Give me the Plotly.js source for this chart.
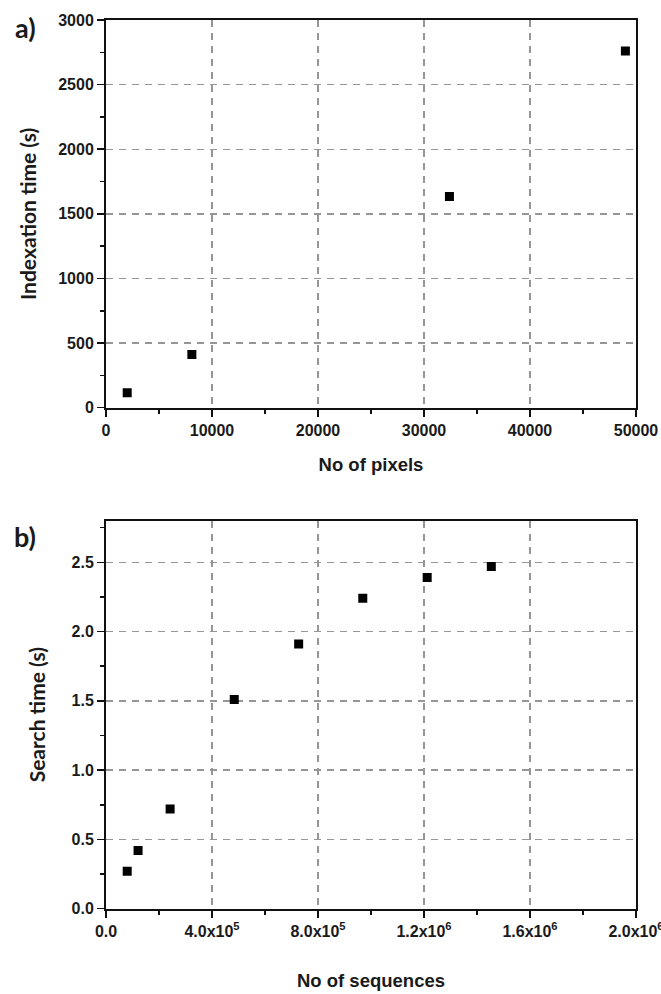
<!DOCTYPE html>
<html><head><meta charset="utf-8">
<script src="https://cdn.plot.ly/plotly-3.0.1.min.js"></script>
<style>html,body{margin:0;padding:0;background:#fff}</style>
</head><body><div id="chart" style="width:661px;height:994px"></div>
<script>
const pixels = [2000, 8100, 32400, 49000];
const indexTime = [115, 412, 1635, 2760];
const sequences = [80000, 121000, 242000, 484000, 727000, 969000, 1212000, 1454000];
const searchTime = [0.27, 0.42, 0.72, 1.51, 1.91, 2.24, 2.39, 2.47];
const seqTickVals = [0, 400000, 800000, 1200000, 1600000, 2000000];
const seqTickText = ['0.0', '4.0x10<sup>5</sup>', '8.0x10<sup>5</sup>', '1.2x10<sup>6</sup>', '1.6x10<sup>6</sup>', '2.0x10<sup>6</sup>'];
const panelLabels = ['a)', 'b)'];

const tickFont = {family: 'Liberation Sans Narrow, Liberation Sans, Arial', size: 16, color: '#1a1a1a', weight: 'bold'};
const xTitleFont = {family: 'Liberation Sans, Arial', size: 18.5, color: '#1a1a1a', weight: 'bold'};
const yTitleFont = {family: 'Lato, Noto Sans, sans-serif', size: 21, color: '#1a1a1a', weight: 'bold'};

function axis(extra) {
  return Object.assign({
    showline: true, linecolor: '#111', linewidth: 2, mirror: true,
    ticks: 'outside', ticklen: 7, tickwidth: 1.5, tickcolor: '#111',
    showgrid: true, gridcolor: '#969696', gridwidth: 1.4, griddash: '7px,6px',
    zeroline: false, automargin: false, fixedrange: true,
    exponentformat: 'none', separatethousands: false, ticklabeloverflow: 'allow',
    tickfont: tickFont
  }, extra);
}
function minor(dt) {
  return {ticks: 'outside', ticklen: 4, tickwidth: 1.5, tickcolor: '#111', showgrid: false, dtick: dt, tick0: 0};
}

const marker = {symbol: 'square', size: 9, color: '#000'};
const data = [
  {x: pixels, y: indexTime, type: 'scatter', mode: 'markers', marker: marker, xaxis: 'x', yaxis: 'y', hoverinfo: 'none'},
  {x: sequences, y: searchTime, type: 'scatter', mode: 'markers', marker: marker, xaxis: 'x2', yaxis: 'y2', hoverinfo: 'none'}
];

const xdom = [106/661, 636/661];
const layout = {
  width: 661, height: 994,
  margin: {l: 0, r: 0, t: 0, b: 0},
  paper_bgcolor: '#fff', plot_bgcolor: '#fff',
  showlegend: false,
  xaxis: axis({domain: xdom, anchor: 'y', range: [0, 50000], dtick: 10000, tick0: 0, tickformat: 'd',
    minor: minor(5000),
    title: {text: 'No of pixels', font: xTitleFont, standoff: 20}}),
  yaxis: axis({domain: [1 - 407.7/994, 1 - 20/994], anchor: 'x', range: [0, 3000], dtick: 500, tick0: 0, tickformat: 'd',
    minor: minor(250),
    title: {text: 'Indexation time (s)', font: yTitleFont, standoff: 16}}),
  xaxis2: axis({domain: xdom, anchor: 'y2', range: [0, 2000000], tickmode: 'array', tickvals: seqTickVals, ticktext: seqTickText,
    minor: minor(200000),
    title: {text: 'No of sequences', font: xTitleFont, standoff: 35}}),
  yaxis2: axis({domain: [1 - 908.7/994, 1 - 520.7/994], anchor: 'x2', range: [0, 2.8], dtick: 0.5, tick0: 0, tickformat: '.1f',
    minor: minor(0.25),
    title: {text: 'Search time (s)', font: yTitleFont, standoff: 20}}),
  annotations: [
    {text: panelLabels[0], xref: 'paper', yref: 'paper', x: 25/661, y: 1 - 27/994, xanchor: 'center', yanchor: 'middle', showarrow: false,
     font: {family: 'Lato, Noto Sans, sans-serif', size: 27, color: '#1a1a1a', weight: 'bold'}},
    {text: panelLabels[1], xref: 'paper', yref: 'paper', x: 25/661, y: 1 - 536/994, xanchor: 'center', yanchor: 'middle', showarrow: false,
     font: {family: 'Lato, Noto Sans, sans-serif', size: 27, color: '#1a1a1a', weight: 'bold'}}
  ]
};

Plotly.newPlot('chart', data, layout, {staticPlot: true, displayModeBar: false});
</script>
</body></html>
